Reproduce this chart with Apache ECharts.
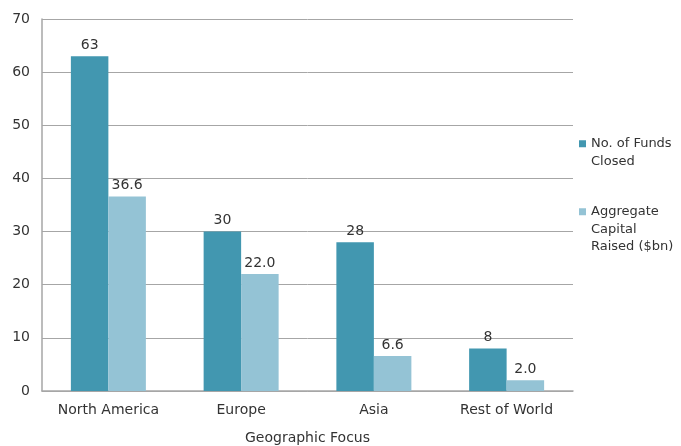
<!DOCTYPE html>
<html>
<head>
<meta charset="utf-8">
<script src="https://cdn.jsdelivr.net/npm/echarts@6/dist/echarts.min.js"></script>
<style>html,body{margin:0;padding:0;background:#fff;}#c{width:681px;height:446px;}</style>
</head>
<body>
<div id="c"></div>
<script>
var categories = ['North America', 'Europe', 'Asia', 'Rest of World'];
var fundsClosed = [63, 30, 28, 8];
var capitalRaised = [36.6, 22.0, 6.6, 2.0];
var yTicks = [0, 10, 20, 30, 40, 50, 60, 70];
var seriesNames = ['No. of Funds Closed', 'Aggregate Capital Raised ($bn)'];
var colors = ['#4297B0', '#94C3D5'];
var FONT = 'DejaVu Sans';

var chart = echarts.init(document.getElementById('c'));
var legendText = {};
legendText[seriesNames[0]] = '{s0|}{g|}{t|No. of Funds}\n{p|}{t|Closed}';
legendText[seriesNames[1]] = '{s1|}{g|}{t|Aggregate}\n{p|}{t|Capital}\n{p|}{t|Raised ($bn)}';

chart.setOption({
  animation: false,
  color: colors,
  textStyle: { fontFamily: FONT },
  grid: { left: 42, right: 108, top: 19, bottom: 55, outerBoundsMode: 'none', containLabel: false },
  legend: {
    orient: 'vertical',
    left: 574,
    top: 135,
    padding: 0,
    icon: 'none',
    itemWidth: 0,
    itemHeight: 10,
    itemGap: 33,
    selectedMode: false,
    data: seriesNames,
    formatter: function (n) { return legendText[n]; },
    textStyle: {
      fontFamily: FONT, fontSize: 13, color: '#333', lineHeight: 17.5,
      rich: {
        t: { fontFamily: FONT, fontSize: 13, color: '#333', lineHeight: 17.5 },
        p: { width: 12, height: 7 },
        g: { width: 5, height: 7 },
        s0: { width: 7, height: 7, backgroundColor: colors[0] },
        s1: { width: 7, height: 7, backgroundColor: colors[1] }
      }
    }
  },
  xAxis: {
    type: 'category',
    data: categories,
    name: 'Geographic Focus',
    nameLocation: 'middle',
    nameGap: 40,
    nameTextStyle: { fontFamily: FONT, fontSize: 14, color: '#333' },
    axisLine: { lineStyle: { color: '#a6a6a6', width: 1.5 } },
    axisTick: { show: false },
    axisLabel: { fontFamily: FONT, fontSize: 14, color: '#333', margin: 12 }
  },
  yAxis: {
    type: 'value',
    min: 0, max: 70, interval: 10,
    axisLine: { show: true, lineStyle: { color: '#a6a6a6', width: 1.5 } },
    axisTick: { show: false },
    splitLine: { lineStyle: { color: '#a6a6a6', width: 1 } },
    axisLabel: {
      fontFamily: FONT, fontSize: 14, color: '#333', margin: 12,
      formatter: function (v) { return yTicks.indexOf(v) >= 0 ? String(v) : ''; }
    }
  },
  series: [
    {
      name: seriesNames[0], type: 'bar', data: fundsClosed,
      barWidth: 37.5, barGap: '0%',
      itemStyle: { color: colors[0] },
      label: { show: true, position: 'top', distance: 4, fontFamily: FONT, fontSize: 14, color: '#333',
        formatter: function (p) { return String(p.value); } }
    },
    {
      name: seriesNames[1], type: 'bar', data: capitalRaised,
      barWidth: 37.5, barGap: '0%',
      itemStyle: { color: colors[1] },
      label: { show: true, position: 'top', distance: 4, fontFamily: FONT, fontSize: 14, color: '#333',
        formatter: function (p) { return p.value.toFixed(1); } }
    }
  ]
});
</script>
</body>
</html>
